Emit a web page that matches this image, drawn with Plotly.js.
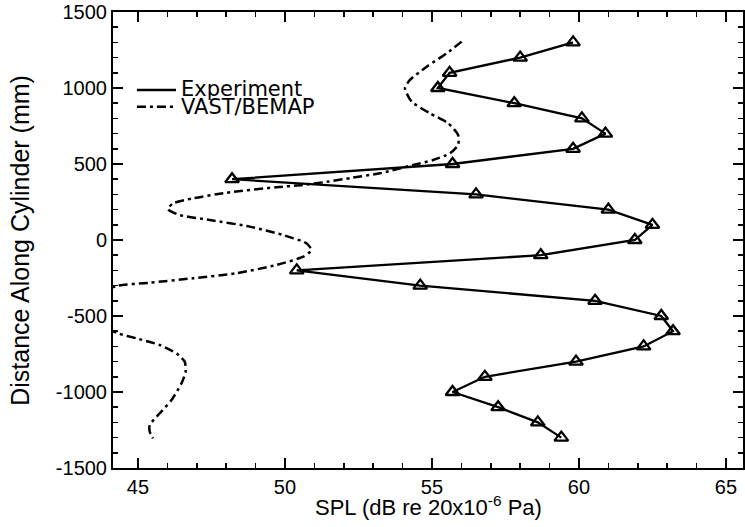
<!DOCTYPE html>
<html>
<head>
<meta charset="utf-8">
<script src="https://cdn.plot.ly/plotly-3.0.1.min.js"></script>
<style>
  html, body { margin: 0; padding: 0; background: #fff; }
  #chart { width: 745px; height: 527px; }
</style>
</head>
<body>
<div id="chart"></div>
<script>
// Experiment data (triangles)
const expSPL = [59.8, 58.0, 55.6, 55.2, 57.8, 60.1, 60.9, 59.8, 55.7, 48.2, 56.5, 61.0, 62.5, 61.9, 58.7, 50.4, 54.6, 60.55, 62.8, 63.2, 62.2, 59.9, 56.8, 55.7, 57.25, 58.6, 59.4];
const expDist = [1300, 1200, 1100, 1000, 900, 800, 700, 600, 500, 400, 300, 200, 100, 0, -100, -200, -300, -400, -500, -600, -700, -800, -900, -1000, -1100, -1200, -1300];

// VAST/BEMAP prediction (dash-dot curve)
const vastSPL = [56.01, 55.50, 54.82, 54.25, 54.08, 54.31, 54.93, 55.55, 55.89, 55.89, 55.61, 55.04, 54.36, 53.23, 52.3, 51.5, 50.6, 49.7, 48.01, 46.87, 46.19, 46.02, 46.42, 47.44, 48.80, 49.93, 50.73, 50.90, 50.62, 49.71, 48.35, 46.87, 45.40, 44.26, 43.5, 43.3, 43.5, 44.32, 44.95, 45.74, 46.31, 46.59, 46.62, 46.48, 46.14, 45.74, 45.40, 45.40, 45.51];
const vastDist = [1305, 1228, 1140, 1053, 998, 910, 834, 768, 691, 625, 570, 526, 493, 439, 410, 385, 362, 347, 311, 274, 241, 202, 164, 132, 88, 33, -22, -66, -110, -164, -219, -252, -281, -303, -380, -460, -540, -614, -647, -691, -746, -800, -866, -943, -1053, -1140, -1217, -1261, -1305];

// Tick labels
const xTickVals = [45, 50, 55, 60, 65];
const xTickText = ['45', '50', '55', '60', '65'];
const yTickVals = [-1500, -1000, -500, 0, 500, 1000, 1500];
const yTickText = ['-1500', '-1000', '-500', '0', '500', '1000', '1500'];

const legendNames = ["Experiment", "VAST/BEMAP"];
const xTitle = 'SPL (dB re 20x10<sup>-6</sup> Pa)';
const yTitle = 'Distance Along Cylinder (mm)';

const FONT = 'Liberation Sans, Arial, sans-serif';
const DASHDOT = '9px,4px,3px,4px';

const traces = [
  {
    x: vastSPL, y: vastDist, type: 'scatter', mode: 'lines', name: legendNames[1],
    line: { color: '#000', width: 2.5, dash: DASHDOT, shape: 'spline', smoothing: 0.6 },
    showlegend: false, hoverinfo: 'skip'
  },
  {
    x: expSPL, y: expDist, type: 'scatter', mode: 'lines+markers', name: legendNames[0],
    line: { color: '#000', width: 2.3 },
    marker: { symbol: 'triangle-up-open', size: 12, color: '#000', line: { width: 2.3, color: '#000' } },
    showlegend: false, cliponaxis: false
  }
];

const axisCommon = {
  showline: true, linecolor: '#000', linewidth: 2, mirror: 'allticks',
  ticks: 'inside', ticklen: 10, tickwidth: 2, tickcolor: '#000',
  showgrid: false, zeroline: false, tickmode: 'array',
  tickfont: { family: FONT, size: 20, color: '#000' }
};

const layout = {
  width: 745, height: 527,
  margin: { l: 113, r: 2, t: 12, b: 59 },
  paper_bgcolor: '#fff', plot_bgcolor: '#fff',
  showlegend: false,
  xaxis: Object.assign({}, axisCommon, {
    range: [44.15, 65.58], tickvals: xTickVals, ticktext: xTickText,
    minor: { tick0: 45, dtick: 1, ticks: 'inside', ticklen: 5, tickwidth: 1.5, tickcolor: '#000', showgrid: false }
  }),
  yaxis: Object.assign({}, axisCommon, {
    range: [-1500, 1500], tickvals: yTickVals, ticktext: yTickText,
    minor: { tick0: 0, dtick: 100, ticks: 'inside', ticklen: 5, tickwidth: 1.5, tickcolor: '#000', showgrid: false }
  }),
  shapes: [
    { type: 'line', xref: 'paper', yref: 'paper', x0: 0.038, x1: 0.1, y0: 0.829, y1: 0.829,
      line: { color: '#000', width: 2.5 } },
    { type: 'line', xref: 'paper', yref: 'paper', x0: 0.038, x1: 0.1, y0: 0.792, y1: 0.792,
      line: { color: '#000', width: 2.5, dash: DASHDOT } }
  ],
  annotations: [
    { xref: 'paper', yref: 'paper', x: 0.104, y: 0.832, xanchor: 'left', yanchor: 'middle',
      text: legendNames[0], showarrow: false,
      font: { family: 'DejaVu Sans, sans-serif', size: 21, color: '#000' } },
    { xref: 'paper', yref: 'paper', x: 0.104, y: 0.792, xanchor: 'left', yanchor: 'middle',
      text: legendNames[1], showarrow: false,
      font: { family: 'DejaVu Sans, sans-serif', size: 21, color: '#000' } },
    { xref: 'paper', yref: 'paper', x: 0.5, y: -0.083, xanchor: 'center', yanchor: 'middle',
      text: xTitle, showarrow: false,
      font: { family: FONT, size: 22, color: '#000' } },
    { xref: 'paper', yref: 'paper', x: -0.148, y: 0.5, xanchor: 'center', yanchor: 'middle',
      text: yTitle, showarrow: false, textangle: -90,
      font: { family: FONT, size: 25, color: '#000' } }
  ]
};

Plotly.newPlot('chart', traces, layout, { displayModeBar: false, staticPlot: true });
</script>
</body>
</html>
